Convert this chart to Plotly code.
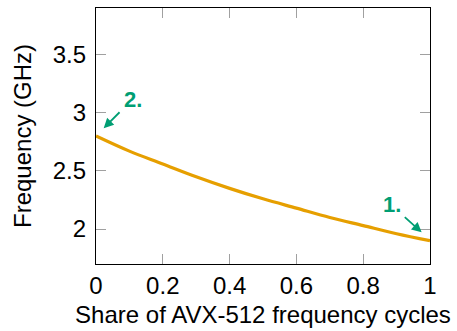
import plotly.graph_objects as go

# Data
share = [0.0, 0.1, 0.2, 0.3, 0.4, 0.5, 0.6, 0.7, 0.8, 0.9, 1.0]
freq = [2.80, 2.67, 2.56, 2.45, 2.35, 2.26, 2.18, 2.10, 2.03, 1.96, 1.90]

x_ticks = [0, 0.2, 0.4, 0.6, 0.8, 1]
x_tick_labels = ["0", "0.2", "0.4", "0.6", "0.8", "1"]
y_ticks = [2, 2.5, 3, 3.5]
y_tick_labels = ["2", "2.5", "3", "3.5"]

# annotations: (label, text_x, text_y, tail_x, tail_y, head_x, head_y)
notes = [
    ("2.", 0.111, 3.114, 0.075, 3.017, 0.023, 2.867),
    ("1.", 0.885, 2.213, 0.920, 2.114, 0.975, 1.972),
]

ORANGE = "#E69F00"
TEAL = "#009E73"
FONT = "Liberation Sans, Arial, sans-serif"
FS = 24

fig = go.Figure()
fig.add_trace(go.Scatter(x=share, y=freq, mode="lines",
                         line=dict(color=ORANGE, width=3.2, shape="spline"),
                         showlegend=False, hoverinfo="skip"))

for lab, tx, ty, ax_, ay_, hx, hy in notes:
    fig.add_annotation(x=hx, y=hy, ax=ax_, ay=ay_, xref="x", yref="y",
                       axref="x", ayref="y", text="", showarrow=True,
                       arrowhead=2, arrowsize=1.1, arrowwidth=1.8,
                       arrowcolor=TEAL)
    fig.add_annotation(x=tx, y=ty, xref="x", yref="y", text="<b>%s</b>" % lab,
                       showarrow=False, font=dict(color=TEAL, size=22, family=FONT))

axis_common = dict(showline=True, linecolor="black", linewidth=1.3, mirror="allticks",
                   ticks="inside", ticklen=10, tickcolor="#a0a0a0", tickwidth=1.2,
                   showgrid=False, zeroline=False,
                   tickfont=dict(size=FS, color="black", family=FONT))

fig.update_xaxes(range=[0, 1], tickvals=x_ticks, ticktext=x_tick_labels,
                 title=dict(text="Share of AVX-512 frequency cycles",
                            font=dict(size=FS, color="black", family=FONT), standoff=8),
                 **axis_common)
fig.update_yaxes(range=[1.7, 3.9], tickvals=y_ticks, ticktext=y_tick_labels,
                 ticklabelstandoff=4,
                 title=dict(text="Frequency (GHz)",
                            font=dict(size=FS, color="black", family=FONT), standoff=14),
                 **axis_common)

fig.update_layout(width=457, height=331, margin=dict(l=95.5, r=27, t=7, b=66),
                  paper_bgcolor="white", plot_bgcolor="white",
                  font=dict(family=FONT, color="black"))

fig.write_html("out.html")
